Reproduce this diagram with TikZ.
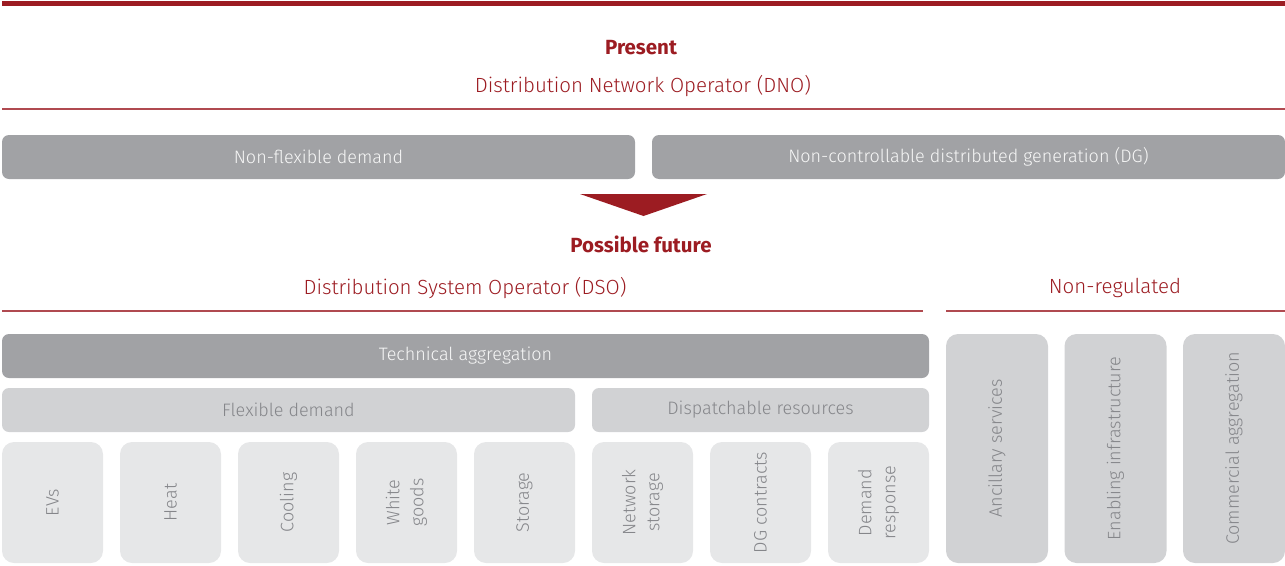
\documentclass[tikz,border=0pt]{standalone}
\usepackage{fontspec}
\setmainfont{Fira Sans}[UprightFont=* Light, BoldFont=* Bold]
\usetikzlibrary{positioning}
\definecolor{brandred}{HTML}{9C1C22}
\definecolor{rulered}{HTML}{B04A50}
\definecolor{darkbox}{HTML}{A1A2A5}
\definecolor{midbox}{HTML}{D1D2D4}
\definecolor{lightbox}{HTML}{E6E7E8}
\definecolor{boxtext}{HTML}{85868A}
\definecolor{darktext}{HTML}{F7F7F7}
\tikzset{
  heading/.style={text=brandred, font=\fontsize{20.5}{23}\selectfont\bfseries, inner sep=0pt},
  subheading/.style={text=brandred, font=\fontsize{20.5}{24}\selectfont, inner sep=0pt},
  rule/.style={draw=rulered, line width=1.4pt},
  barbox/.style={fill=darkbox, draw=none, rounded corners=7pt, inner sep=0pt, outer sep=0pt,
    anchor=north west, minimum height=44pt, text=darktext, font=\fontsize{18}{21}\selectfont},
  groupbox/.style={fill=midbox, draw=none, rounded corners=7pt, inner sep=0pt, outer sep=0pt,
    anchor=north west, minimum height=44pt, text=boxtext, font=\fontsize{18}{21}\selectfont},
  itembox/.style={fill=lightbox, draw=none, rounded corners=12pt, inner sep=0pt, outer sep=0pt,
    rotate=90, minimum width=121pt, minimum height=101pt, align=center,
    text=boxtext, font=\fontsize{18}{24}\selectfont},
  tallbox/.style={fill=midbox, draw=none, rounded corners=12pt, inner sep=0pt, outer sep=0pt,
    rotate=90, minimum width=229pt, minimum height=102pt, align=center,
    text=boxtext, font=\fontsize{18}{24}\selectfont},
}
\begin{document}
\begin{tikzpicture}[x=1pt, y=-1pt]
\useasboundingbox (0,0) rectangle (1285,565);

% top band
\fill[brandred] (2,1) rectangle (1285,6);

% present state
\node[heading] (present) at (641,48) {Present};
\node[subheading] (dno) at (643,86) {Distribution Network Operator (DNO)};
\coordinate (dnoL) at (2,109);
\coordinate (dnoR) at (1285,109);
\draw[rule] (dnoL) -- (dnoR);

\node[barbox, minimum width=633pt] (nfd) at (2,135) {Non-flexible demand};
\node[barbox, minimum width=633pt] (ncdg) at (652,135) {Non-controllable distributed generation (DG)};

% transition arrow
\coordinate (triL) at (580,194);
\coordinate (triR) at (707,194);
\coordinate (triT) at (643.5,216);
\fill[brandred] (triL) -- (triR) -- (triT) -- cycle;

% possible future
\node[heading] (future) at (641,244) {Possible future};
\node[subheading] (dso) at (465,288) {Distribution System Operator (DSO)};
\node[subheading] (nonreg) at (1115,288) {Non-regulated};
\coordinate (dsoL) at (2,311);
\coordinate (dsoR) at (923,311);
\coordinate (nrL) at (946,311);
\coordinate (nrR) at (1285,311);
\draw[rule] (dsoL) -- (dsoR);
\draw[rule] (nrL) -- (nrR);

\node[barbox, minimum width=927pt] (tech) at (2,334) {Technical aggregation};
\node[groupbox, minimum width=573pt] (flex) at (2,388) {Flexible demand};
\node[groupbox, minimum width=337pt] (disp) at (592,388) {Dispatchable resources};

% individual resources
\node[itembox] (evs)     at (52.5,502.5)  {EVs};
\node[itembox] (heat)    at (170.5,502.5) {Heat};
\node[itembox] (cool)    at (288.5,502.5) {Cooling};
\node[itembox] (white)   at (406.5,502.5) {White\\goods};
\node[itembox] (store)   at (524.5,502.5) {Storage};
\node[itembox] (netst)   at (642.5,502.5) {Network\\storage};
\node[itembox] (dgc)     at (760.5,502.5) {DG contracts};
\node[itembox] (dresp)   at (878.5,502.5) {Demand\\response};

% non-regulated services
\node[tallbox] (anc)  at (997,448.5)  {Ancillary services};
\node[tallbox] (enab) at (1115.5,448.5) {Enabling infrastructure};
\node[tallbox] (comm) at (1234,448.5) {Commercial aggregation};
\end{tikzpicture}
\end{document}
